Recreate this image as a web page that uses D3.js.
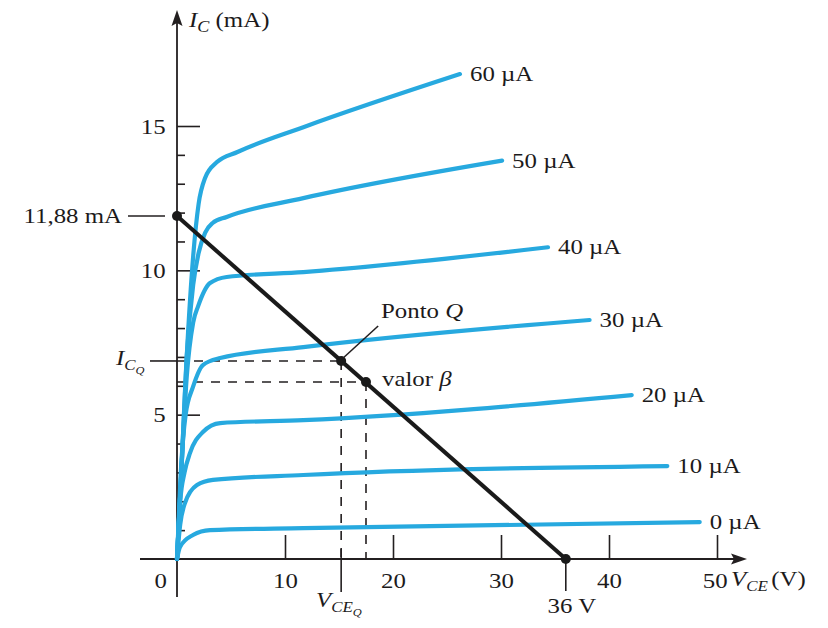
<!DOCTYPE html>
<html>
<head>
<meta charset="utf-8">
<style>
body { margin: 0; background: #fff; }
svg text { font-family: "Liberation Serif", "Times New Roman", serif; fill: #1c1a1b; font-size: 22px; }
.axis path { display: none; }
.axis line { stroke: #231f20; stroke-width: 1.6; }
</style>
</head>
<body>
<svg id="chart" width="828" height="628"></svg>
<script src="https://d3js.org/d3.v7.min.js"></script>
<script>
// output curves, [V_CE (V), I_C (mA)]
const curveLabels = ["60 µA", "50 µA", "40 µA", "30 µA", "20 µA", "10 µA", "0 µA"];
const curve60 = [[0,0],[0.4,3],[0.9,7],[1.5,10.5],[2.0,12.3],[2.6,13.2],[3.7,13.75],[5.6,14.1],[11.7,14.96],[26.2,16.8]];
const curve50 = [[0,0],[0.4,3],[0.9,7],[1.5,9.5],[2.0,10.6],[2.6,11.3],[3.3,11.64],[4.6,11.85],[11.7,12.5],[30.1,13.8]];
const curve40 = [[0,0],[0.4,3],[0.9,6.3],[1.5,8.2],[1.95,8.75],[3.06,9.56],[4.6,9.77],[11.7,9.94],[34.35,10.8]];
const curve30 = [[0,0],[0.35,3],[0.8,5],[1.48,5.96],[2.4,6.72],[4.0,6.96],[11.7,7.34],[38.2,8.28]];
const curve20 = [[0,0],[0.3,2],[0.7,3],[1.2,3.67],[2.4,4.4],[4.0,4.71],[11.7,4.81],[42.1,5.68]];
const curve10 = [[0,0],[0.3,1.2],[0.74,1.94],[1.85,2.56],[3.33,2.74],[11.7,2.91],[45.4,3.22]];
const curve0  = [[0,0],[0.28,0.42],[1.48,0.83],[3.06,1.0],[11.7,1.07],[48.4,1.28]];
const curves = [curve60, curve50, curve40, curve30, curve20, curve10, curve0];

// load line and operating points
const loadLine = [[0, 11.88], [36, 0]];
const qPoint = [15.2, 6.86];
const betaPoint = [17.5, 6.13];

// ticks
const yMajor = [5, 10, 15];
const yMinor = [1, 2, 3, 4, 6, 7, 8, 9, 11, 12, 13, 14];
const xMajor = [10, 20, 30, 40, 50];

const svg = d3.select("#chart");
const x = d3.scaleLinear().domain([0, 50]).range([177, 717]);
const y = d3.scaleLinear().domain([0, 15]).range([559, 126]);
const blue = "#27a9df";
const ink = "#231f20";
const sx = 1.13; // the figure's type is a bit wider than Times

// stretched text helper
function txt(px, py, anchor) {
    return svg.append("text")
        .attr("transform", "translate(" + px + "," + py + ") scale(" + sx + ",1)")
        .attr("text-anchor", anchor || "start");
}

// axes lines
svg.append("line").attr("x1", 140).attr("x2", 736).attr("y1", y(0)).attr("y2", y(0))
    .attr("stroke", ink).attr("stroke-width", 1.8);
svg.append("line").attr("x1", x(0)).attr("x2", x(0)).attr("y1", 597).attr("y2", 22)
    .attr("stroke", ink).attr("stroke-width", 1.8);
svg.append("path").attr("d", "M747," + y(0) + " L731," + (y(0) - 5.5) + " L734," + y(0) + " L731," + (y(0) + 5.5) + " Z")
    .attr("fill", ink);
svg.append("path").attr("d", "M" + x(0) + ",10 L" + (x(0) - 5.5) + ",26 L" + x(0) + ",23 L" + (x(0) + 5.5) + ",26 Z")
    .attr("fill", ink);

// y ticks (pointing right)
svg.append("g").attr("class", "axis").attr("transform", "translate(" + x(0) + ",0)")
    .call(d3.axisRight(y).tickValues(yMajor).tickSize(23).tickFormat(""));
svg.append("g").attr("class", "axis").attr("transform", "translate(" + x(0) + ",0)")
    .call(d3.axisRight(y).tickValues(yMinor).tickSize(8).tickFormat(""));
const yLab = svg.append("g").attr("class", "axis").attr("transform", "translate(" + x(0) + ",0)")
    .call(d3.axisLeft(y).tickValues(yMajor).tickSize(0).tickPadding(10));
yLab.selectAll("text").attr("font-size", null).attr("font-family", null).attr("fill", null)
    .attr("transform", "scale(" + sx + ",1)");

// x ticks (pointing up)
svg.append("g").attr("class", "axis").attr("transform", "translate(0," + y(0) + ")")
    .call(d3.axisTop(x).tickValues(xMajor).tickSize(24).tickFormat(""));
const xLab = svg.append("g").attr("class", "axis").attr("transform", "translate(0," + y(0) + ")")
    .call(d3.axisBottom(x).tickValues(xMajor).tickSize(0).tickPadding(13));
xLab.selectAll("text").attr("font-size", null).attr("font-family", null).attr("fill", null)
    .attr("transform", "scale(" + sx + ",1)");
xLab.selectAll("text").filter(d => d === 50).attr("dx", -2);
txt(167, 588, "end").text("0");

// dashed guides to Q and beta point
const dash = "9,8";
svg.append("line").attr("x1", x(0)).attr("x2", x(qPoint[0])).attr("y1", y(qPoint[1])).attr("y2", y(qPoint[1]))
    .attr("stroke", ink).attr("stroke-width", 1.6).attr("stroke-dasharray", dash);
svg.append("line").attr("x1", x(0)).attr("x2", x(betaPoint[0])).attr("y1", y(betaPoint[1])).attr("y2", y(betaPoint[1]))
    .attr("stroke", ink).attr("stroke-width", 1.6).attr("stroke-dasharray", dash);
svg.append("line").attr("x1", x(qPoint[0])).attr("x2", x(qPoint[0])).attr("y1", y(qPoint[1])).attr("y2", y(0))
    .attr("stroke", ink).attr("stroke-width", 1.6).attr("stroke-dasharray", dash);
svg.append("line").attr("x1", x(betaPoint[0])).attr("x2", x(betaPoint[0])).attr("y1", y(betaPoint[1])).attr("y2", y(0))
    .attr("stroke", ink).attr("stroke-width", 1.6).attr("stroke-dasharray", dash);
// solid tick at V_CEQ crossing the axis
svg.append("line").attr("x1", x(qPoint[0])).attr("x2", x(qPoint[0])).attr("y1", y(0) - 10).attr("y2", y(0) + 33)
    .attr("stroke", ink).attr("stroke-width", 1.6);
svg.append("line").attr("x1", x(loadLine[1][0])).attr("x2", x(loadLine[1][0])).attr("y1", y(0)).attr("y2", y(0) + 32)
    .attr("stroke", ink).attr("stroke-width", 1.6);
// I_CQ and 11.88 mA marks left of the axis
svg.append("line").attr("x1", 150).attr("x2", x(0)).attr("y1", y(qPoint[1])).attr("y2", y(qPoint[1]))
    .attr("stroke", ink).attr("stroke-width", 1.6);
svg.append("line").attr("x1", 128).attr("x2", 165).attr("y1", y(loadLine[0][1])).attr("y2", y(loadLine[0][1]))
    .attr("stroke", ink).attr("stroke-width", 1.6);

// characteristic curves
const line = d3.line().x(d => x(d[0])).y(d => y(d[1])).curve(d3.curveMonotoneX);
svg.selectAll("path.ic").data(curves).enter().append("path")
    .attr("class", "ic")
    .attr("d", line)
    .attr("fill", "none")
    .attr("stroke", blue)
    .attr("stroke-width", 4.2)
    .attr("stroke-linecap", "round");

curves.forEach((c, i) => {
    const last = c[c.length - 1];
    txt(x(last[0]) + 10, y(last[1]) + 7).text(curveLabels[i]);
});

// load line
svg.append("path").attr("d", d3.line().x(d => x(d[0])).y(d => y(d[1]))(loadLine))
    .attr("stroke", "#1a1a1a").attr("stroke-width", 4).attr("fill", "none");
svg.selectAll("circle.pt").data([loadLine[0], loadLine[1], qPoint, betaPoint]).enter().append("circle")
    .attr("cx", d => x(d[0])).attr("cy", d => y(d[1])).attr("r", 5).attr("fill", "#1a1a1a");

// Ponto Q leader
svg.append("line").attr("x1", x(qPoint[0]) + 2).attr("y1", y(qPoint[1]) - 3)
    .attr("x2", x(qPoint[0]) + 37).attr("y2", y(qPoint[1]) - 35)
    .attr("stroke", ink).attr("stroke-width", 1.6);

// texts
const t1 = txt(381, 318);
t1.append("tspan").text("Ponto ");
t1.append("tspan").attr("font-style", "italic").text("Q");
const t2 = txt(382, 386);
t2.append("tspan").text("valor ");
t2.append("tspan").attr("font-style", "italic").text("β");

txt(122, y(loadLine[0][1]) + 7, "end").text("11,88 mA");

const ic = txt(189, 27);
ic.append("tspan").attr("font-style", "italic").text("I");
ic.append("tspan").attr("font-style", "italic").attr("font-size", 16).attr("dy", 5).text("C");
ic.append("tspan").attr("dy", -5).text(" (mA)");

const icq = txt(116, y(qPoint[1]) + 4);
icq.append("tspan").attr("font-style", "italic").text("I");
icq.append("tspan").attr("font-style", "italic").attr("font-size", 15).attr("dy", 5).text("C");
icq.append("tspan").attr("font-style", "italic").attr("font-size", 11).attr("dy", 4).text("Q");

const vce = txt(731, 586);
vce.append("tspan").attr("font-style", "italic").text("V");
vce.append("tspan").attr("font-style", "italic").attr("font-size", 15).attr("dy", 5).text("CE");
vce.append("tspan").attr("dy", -5).attr("dx", 3).text("(V)");

const vceq = txt(316, 607);
vceq.append("tspan").attr("font-style", "italic").text("V");
vceq.append("tspan").attr("font-style", "italic").attr("font-size", 15).attr("dy", 5).text("CE");
vceq.append("tspan").attr("font-style", "italic").attr("font-size", 11).attr("dy", 4).text("Q");

txt(x(loadLine[1][0]) + 6, 613, "middle").text("36 V");
</script>
</body>
</html>
